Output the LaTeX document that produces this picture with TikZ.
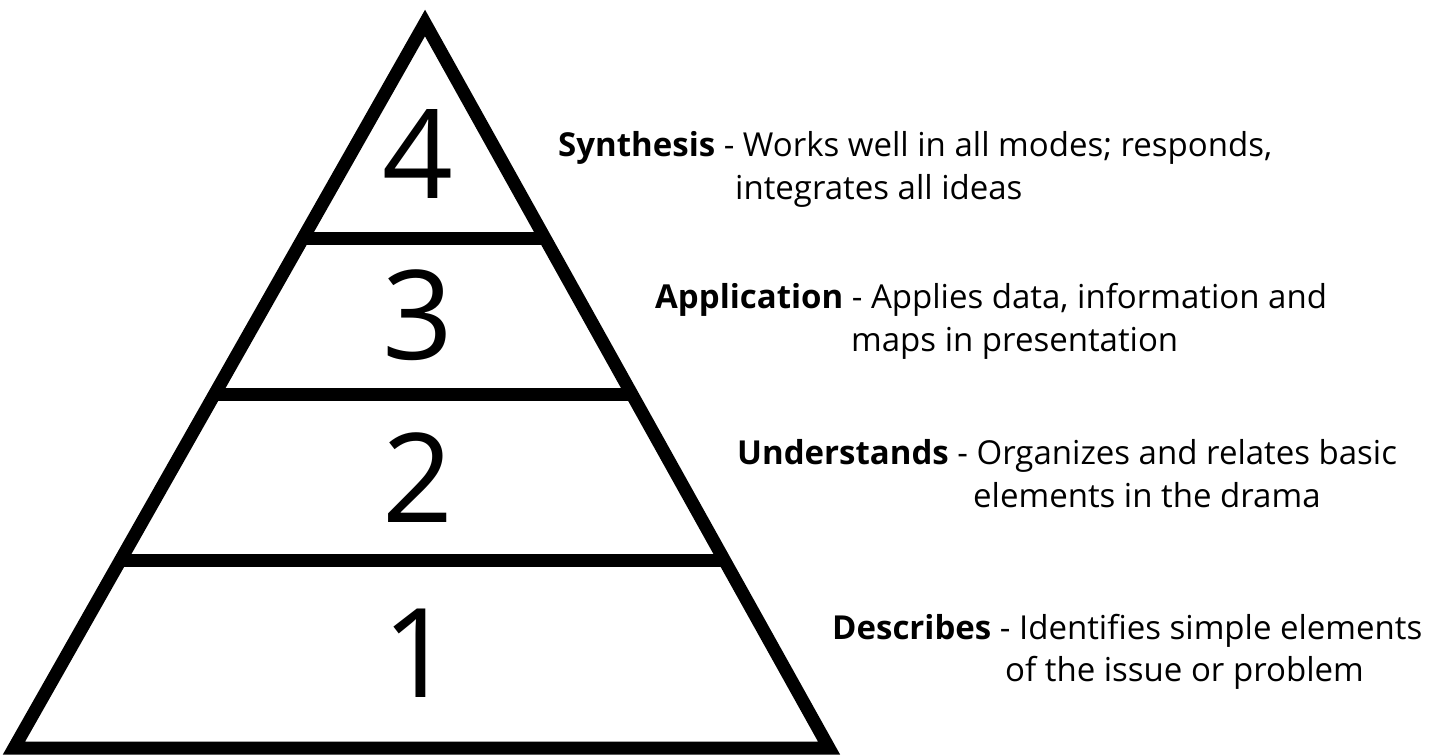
\documentclass[tikz,border=0pt]{standalone}
\usepackage{fontspec}
\setmainfont{Open Sans}
\begin{document}
\begin{tikzpicture}[x=1pt,y=-1pt,
  edge/.style={line width=13pt,line join=miter},
  band/.style={line width=13pt},
  digit/.style={inner sep=0pt,font=\fontsize{124}{130}\selectfont},
  lab/.style={inner sep=0pt,anchor=base west,font=\fontsize{33}{38}\selectfont}]
\useasboundingbox (0,0) rectangle (1443,755);
\coordinate (A) at (425,23);
\coordinate (L) at (14,748);
\coordinate (R) at (829,748);
\draw[edge] (A) -- (R) -- (L) -- cycle;
\coordinate (l3) at (301.9,238); \coordinate (r3) at (546.0,238);
\coordinate (l2) at (213.9,394); \coordinate (r2) at (632.6,394);
\coordinate (l1) at (120.1,560); \coordinate (r1) at (724.7,560);
\draw[band] (l3) -- (r3);
\draw[band] (l2) -- (r2);
\draw[band] (l1) -- (r1);
\node[digit] (d4) at (418,154) {4};
\node[digit] (d3) at (418,315) {3};
\node[digit] (d2) at (418,478) {2};
\node[digit] (d1) at (418,653) {1};
\node[lab] (s1) at (558,156) {\textbf{Synthesis} - Works well in all modes; responds,};
\node[lab] (s2) at (735,199) {integrates all ideas};
\node[lab] (a1) at (655,308) {\textbf{Application} - Applies data, information and};
\node[lab] (a2) at (851,351) {maps in presentation};
\node[lab] (u1) at (737,464) {\textbf{Understands} - Organizes and relates basic};
\node[lab] (u2) at (973,507) {elements in the drama};
\node[lab] (e1) at (832,639) {\textbf{Describes} - Identifies simple elements};
\node[lab] (e2) at (1005,681) {of the issue or problem};
\end{tikzpicture}
\end{document}
